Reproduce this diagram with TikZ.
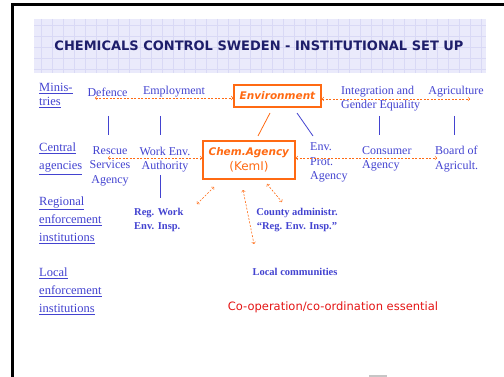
\documentclass[tikz,border=0pt]{standalone}
\usepackage{fontspec}
\usepackage{xcolor}
\setmainfont{Liberation Serif}
\newfontfamily\comicfont{DejaVu Sans}
\usetikzlibrary{arrows,calc,positioning}
\definecolor{inkblue}{HTML}{4343D0}
\definecolor{kemorange}{HTML}{FF6A13}
\definecolor{titlenavy}{HTML}{1E1E6A}
\definecolor{gridfill}{HTML}{EAEAFB}
\definecolor{gridline}{HTML}{D9D9F5}
\definecolor{coopred}{HTML}{E41414}
\tikzset{%
	ministry/.style = {text=inkblue, inner sep=0pt, align=center, font=\fontsize{12}{14.5}\selectfont}, % Ministry / agency
	agency/.style   = {ministry, align=left}, % Agency, left aligned
	level/.style    = {text=inkblue, inner sep=0pt, anchor=west, align=left, font=\fontsize{12.5}{18}\selectfont}, % Level
	region/.style   = {text=inkblue, inner sep=0pt, align=center, font=\bfseries\fontsize{10.5}{14}\selectfont}, % Regional body
	kembox/.style   = {draw=kemorange, line width=1.6pt, text=kemorange, align=center, inner sep=0pt}, % Orange box
	coop/.style     = {<->, draw=kemorange, dash pattern=on 2pt off 1.5pt, line width=0.6pt}, % Co-operation
	link/.style     = {draw=inkblue, line width=0.8pt}, % Line
	waypoint/.style = {coordinate},
}

\begin{document}
\begin{tikzpicture}[x=1pt, y=-1pt]
	\useasboundingbox (0,0) rectangle (504,377);
	% slide frame and title band
	\draw[line width=2.5pt] (12.5,4.5) rectangle (530,400);
	\fill[gridfill] (34,19) rectangle (486,73);
	\foreach \gx in {41,52,...,486} \draw[gridline, line width=0.4pt] (\gx,19) -- (\gx,73);
	\foreach \gy in {25,36,...,73} \draw[gridline, line width=0.4pt] (34,\gy) -- (486,\gy);
	\node[text=titlenavy, font=\comicfont\bfseries\fontsize{13}{14}\selectfont] (title) at (259,46) {CHEMICALS CONTROL SWEDEN - INSTITUTIONAL SET UP};
	\fill[gray!45] (369,375) rectangle (387,378);

	% levels
	\node[level, font=\fontsize{12.5}{14}\selectfont] (minis) at (39,95.5) {\underline{Minis-}\\\underline{tries}};
	\node[level] (central) at (39,159) {\underline{Central}\\\underline{agencies}};
	\node[level] (regional) at (39,220) {\underline{Regional}\\\underline{enforcement}\\\underline{institutions}};
	\node[level] (local) at (39,291) {\underline{Local}\\\underline{enforcement}\\\underline{institutions}};

	% ministries
	\node[ministry] (defence) at (107.5,92) {Defence};
	\node[ministry] (employ) at (174,92) {Employment};
	\node[kembox, minimum width=87pt, minimum height=22pt, font=\comicfont\bfseries\itshape\fontsize{10.5}{13}\selectfont] (env) at (277.5,96) {Environment};
	\node[agency, anchor=west] (integ) at (341,98.5) {Integration and\\Gender Equality};
	\node[ministry] (agri) at (456,92) {Agriculture};
	\node[waypoint] (defend) at (95,98) {};
	\node[waypoint] (agriend) at (470,99) {};
	\draw[coop] (defend) -- (env.west |- defend);
	\draw[coop] (env.east |- agriend) -- (agriend);

	% central agencies
	\node[ministry] (rescue) at (110,166) {Rescue\\Services\\Agency};
	\node[ministry] (workenv) at (165,159.5) {Work Env.\\Authority};
	\node[kembox, minimum width=92pt, minimum height=38pt, font=\comicfont\fontsize{10.5}{15.5}\selectfont] (kemi) at (249,160) {\textbf{\textit{Chem.Agency}}\\{\fontsize{12}{15.5}\selectfont(KemI)}};
	\node[agency, anchor=west] (epa) at (310,162.5) {Env.\\Prot.\\Agency};
	\node[agency, anchor=west] (consumer) at (362,159) {Consumer\\Agency};
	\node[agency, anchor=west] (board) at (435,159) {Board of\\Agricult.};
	\node[waypoint] (rescend) at (108,158) {};
	\node[waypoint] (boardend) at (437,158) {};
	\draw[coop] (rescend) -- (kemi.west |- rescend);
	\draw[coop] (kemi.east |- boardend) -- (boardend);

	% ministry to agency lines
	\foreach \lx in {108,160,379,454} \draw[link] (\lx,116) -- (\lx,135);
	\draw[link] (160,175) -- (160,198);
	\draw[draw=kemorange, line width=0.8pt] (270,113) -- (258,136);
	\draw[link] (297,113) -- (313,136);

	% regional and local
	\node[region, anchor=west, align=left] (regwork) at (134,220) {Reg. Work\\Env. Insp.};
	\node[region] (county) at (297,220) {County administr.\\``Reg. Env. Insp.''};
	\node[region] (localcom) at (295,272) {Local communities};
	\node[waypoint] (kwa) at (197,204) {};
	\node[waypoint] (kwb) at (214,187) {};
	\node[waypoint] (kla) at (243,190) {};
	\node[waypoint] (klb) at (254,244) {};
	\node[waypoint] (kca) at (267,184) {};
	\node[waypoint] (kcb) at (282,202) {};
	\draw[coop] (kwa) -- (kwb);
	\draw[coop] (kla) -- (klb);
	\draw[coop] (kca) -- (kcb);

	\node[text=coopred, font=\comicfont\fontsize{11.5}{13}\selectfont] (coopnote) at (333,307) {Co-operation/co-ordination essential};
\end{tikzpicture}
\end{document}
